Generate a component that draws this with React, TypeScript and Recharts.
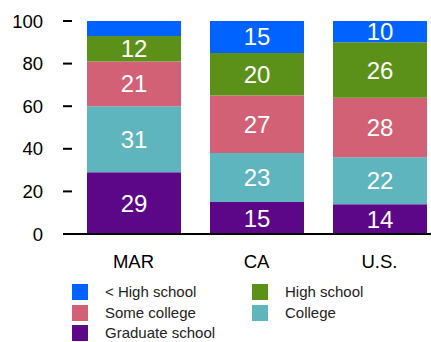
import { BarChart, Bar, XAxis, YAxis, LabelList } from 'recharts';

const regions = ['MAR', 'CA', 'U.S.'];
const lessHighSchool = [7, 15, 10];
const highSchool = [12, 20, 26];
const someCollege = [21, 27, 28];
const college = [31, 23, 22];
const graduate = [29, 15, 14];
const yTicks = [0, 20, 40, 60, 80, 100];

const series = [
  { key: 'graduate', name: 'Graduate school', color: '#5C0787', values: graduate },
  { key: 'college', name: 'College', color: '#5FB5BD', values: college },
  { key: 'someCollege', name: 'Some college', color: '#D36176', values: someCollege },
  { key: 'highSchool', name: 'High school', color: '#5B9119', values: highSchool },
  { key: 'lessHighSchool', name: '< High school', color: '#0062FF', values: lessHighSchool },
];

const legendOrder = ['lessHighSchool', 'highSchool', 'someCollege', 'college', 'graduate'];

const data = regions.map((region, i) => {
  const row: Record<string, string | number> = { region };
  series.forEach((s) => {
    row[s.key] = s.values[i];
  });
  return row;
});

const font = '"Liberation Sans", Arial, sans-serif';

export default function App() {
  return (
    <div
      style={{
        position: 'absolute',
        left: 0,
        top: 0,
        width: 431,
        height: 342,
        overflow: 'hidden',
        background: '#fff',
        fontFamily: font,
      }}
    >
      <BarChart
        width={441}
        height={342}
        data={data}
        margin={{ top: 21, right: 0, left: 0, bottom: 58 }}
        barSize={94}
      >
        <XAxis
          dataKey="region"
          height={50}
          tickLine={false}
          tickSize={0}
          tickMargin={21}
          axisLine={{ stroke: '#000', strokeWidth: 2 }}
          tick={{ fontSize: 18.5, fill: '#000', fontFamily: font }}
        />
        <YAxis
          width={72}
          domain={[0, 100]}
          ticks={yTicks}
          axisLine={false}
          tickSize={9}
          tickMargin={20}
          tickLine={{ stroke: '#000', strokeWidth: 2 }}
          tick={{ fontSize: 18.5, fill: '#000', fontFamily: font }}
        />
        {series.map((s) => (
          <Bar
            key={s.key}
            dataKey={s.key}
            stackId="a"
            fill={s.color}
            isAnimationActive={false}
          >
            <LabelList
              dataKey={s.key}
              position="center"
              fill="#fff"
              fontSize={24}
              fontFamily={font}
              formatter={(v: any) => (Number(v) < 9 ? '' : v)}
            />
          </Bar>
        ))}
      </BarChart>
      <div
        style={{
          position: 'absolute',
          left: 72,
          top: 284,
          display: 'grid',
          gridTemplateColumns: '180px 160px',
          rowGap: 4.5,
          fontSize: 15,
          lineHeight: '16px',
          color: '#222',
        }}
      >
        {legendOrder.map((k) => {
          const s = series.find((x) => x.key === k)!;
          return (
            <div key={k} style={{ display: 'flex', alignItems: 'center', height: 16 }}>
              <span
                style={{
                  display: 'inline-block',
                  width: 16,
                  height: 16,
                  background: s.color,
                  marginRight: 17,
                }}
              />
              <span>{s.name}</span>
            </div>
          );
        })}
      </div>
    </div>
  );
}
